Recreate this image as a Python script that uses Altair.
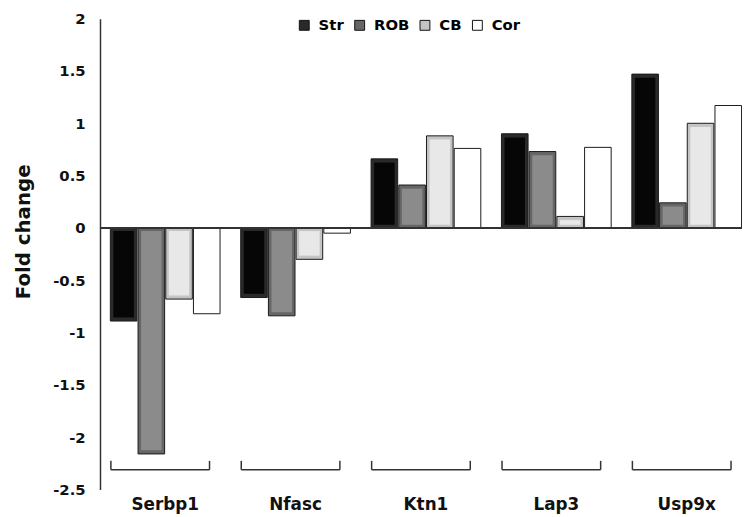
import altair as alt
import pandas as pd

genes = ["Serbp1", "Nfasc", "Ktn1", "Lap3", "Usp9x"]
series = ["Str", "ROB", "CB", "Cor"]
str_vals = [-0.89, -0.665, 0.66, 0.90, 1.47]
rob_vals = [-2.16, -0.84, 0.41, 0.73, 0.24]
cb_vals = [-0.68, -0.30, 0.88, 0.11, 1.00]
cor_vals = [-0.82, -0.05, 0.76, 0.77, 1.17]
y_ticks = [-2.5, -2, -1.5, -1, -0.5, 0, 0.5, 1, 1.5, 2]

rows = []
for s, vals in zip(series, [str_vals, rob_vals, cb_vals, cor_vals]):
    for g, v in zip(genes, vals):
        rows.append({"gene": g, "series": s, "value": v})
df = pd.DataFrame(rows)
gdf = pd.DataFrame({"gene": genes})

FONT = "DejaVu Sans"
outer_colors = ["#2a2a2a", "#666666", "#c4c4c4", "#ffffff"]
inner_colors = ["#060606", "#8b8b8b", "#e8e8e8", "#ffffff"]

PLOT_W = 659

xscale = alt.Scale(domain=genes, paddingInner=0.15, paddingOuter=0.075)
x_axis = alt.Axis(title=None, domain=False, ticks=False, labelAngle=0, labelFont=FONT,
                  labelFontWeight="bold", labelFontSize=17, labelColor="#111",
                  labelPadding=20, labelBaseline="alphabetic")
x_enc = alt.X("gene:N", sort=genes, scale=xscale, axis=x_axis)
xoff_outer = alt.XOffset("series:N", sort=series,
                         scale=alt.Scale(domain=series, paddingInner=0.04, paddingOuter=0.02))
xoff_inner = alt.XOffset("series:N", sort=series,
                         scale=alt.Scale(domain=series, paddingInner=0.26, paddingOuter=0.13))
yscale = alt.Scale(domain=[-2.5, 2], nice=False)
y_axis = alt.Axis(values=y_ticks, labelExpr="'' + datum.value", title="Fold change", grid=False,
                  ticks=False, domainColor="#333", domainWidth=1.5, labelFont=FONT,
                  labelFontWeight="bold", labelFontSize=15, labelColor="#111", labelPadding=15,
                  titleFont=FONT, titleFontWeight="bold", titleFontSize=20, titleColor="#111",
                  titleX=-71, titleY=215, titleBaseline="alphabetic", titleAlign="center")

outer = alt.Chart(df).mark_bar(stroke="#1a1a1a", strokeWidth=1).encode(
    x=x_enc,
    xOffset=xoff_outer,
    y=alt.Y("value:Q", scale=yscale, axis=y_axis),
    color=alt.Color("series:N", sort=series,
                    scale=alt.Scale(domain=series, range=outer_colors),
                    legend=alt.Legend(title=None, orient="none", direction="horizontal",
                                      legendX=199, legendY=-1, symbolType="square",
                                      symbolSize=100, symbolStrokeColor="#111",
                                      symbolStrokeWidth=1, labelFont=FONT,
                                      labelFontWeight="bold", labelFontSize=15,
                                      labelColor="#000", labelOffset=7, columnPadding=8,
                                      padding=0)),
)

inner = alt.Chart(df).transform_filter(
    "datum.series != 'Cor' && abs(datum.value) > 0.08"
).transform_calculate(
    yi="datum.value - (datum.value > 0 ? 1 : -1) * 0.035",
    yi2="(datum.value > 0 ? 1 : -1) * 0.03",
).mark_bar().encode(
    x=x_enc,
    xOffset=xoff_inner,
    y=alt.Y("yi:Q", scale=yscale),
    y2="yi2:Q",
    color=alt.Color("series:N", sort=series,
                    scale=alt.Scale(domain=series, range=inner_colors), legend=None),
)

zero = alt.Chart(gdf).mark_rule(color="#333", strokeWidth=1.5).encode(
    y=alt.datum(0), x=alt.value(0), x2=alt.value(PLOT_W)
)

br_h = alt.Chart(gdf).mark_rule(color="#333", strokeWidth=1.5).encode(
    x=alt.X("gene:N", sort=genes, scale=xscale, axis=x_axis, bandPosition=0.01),
    x2=alt.X2("gene:N", bandPosition=0.9),
    y=alt.datum(-2.311),
)
br_l = alt.Chart(gdf).mark_rule(color="#333", strokeWidth=1.5).encode(
    x=alt.X("gene:N", sort=genes, scale=xscale, axis=x_axis, bandPosition=0.01),
    y=alt.datum(-2.226), y2=alt.datum(-2.311),
)
br_r = alt.Chart(gdf).mark_rule(color="#333", strokeWidth=1.5).encode(
    x=alt.X("gene:N", sort=genes, scale=xscale, axis=x_axis, bandPosition=0.9),
    y=alt.datum(-2.226), y2=alt.datum(-2.311),
)

chart = alt.layer(outer, inner, zero, br_h, br_l, br_r).resolve_scale(
    color="independent", xOffset="independent"
).properties(
    width=PLOT_W, height=476,
    autosize=alt.AutoSizeParams(type="none"),
    padding={"left": 93, "top": 8, "right": -10, "bottom": 25},
).configure_view(stroke=None)

chart.save("out.html", embed_options={"renderer": "svg", "actions": False})
